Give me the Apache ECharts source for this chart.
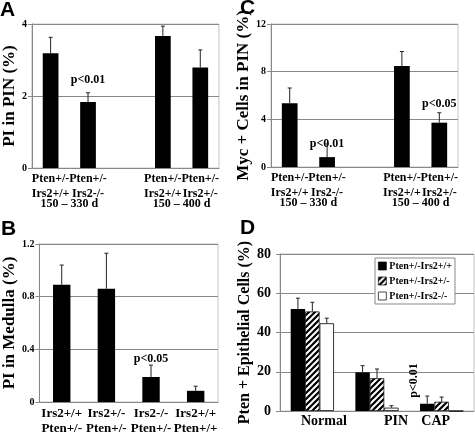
<!DOCTYPE html>
<html><head><meta charset="utf-8">
<script src="https://cdn.jsdelivr.net/npm/echarts@6/dist/echarts.min.js"></script>
<style>html,body{margin:0;padding:0;background:#fff}#c{width:475px;height:436px}</style>
</head><body><div id="c"></div>
<script>
// ---- Panel A ----
const catsA = ['Pten+/-\nIrs2+/+', 'Pten+/-\nIrs2-/-', '', 'Pten+/-\nIrs2+/+', 'Pten+/-\nIrs2+/-'];
const meanA = [3.19, 1.83, null, 3.67, 2.79];
const upperA = [3.63, 2.09, null, 3.94, 3.28];
const groupsA = ['150 \u2013 330 d', '150 \u2013 400 d'];
const pA = ['', 'p<0.01', '', '', ''];
const ticksA = [0, 2, 4];
// ---- Panel C ----
const catsC = ['Pten+/-\nIrs2+/+', 'Pten+/-\nIrs2-/-', '', 'Pten+/-\nIrs2+/+', 'Pten+/-\nIrs2+/-'];
const meanC = [5.36, 0.83, null, 8.47, 3.72];
const upperC = [6.63, 1.94, null, 9.69, 4.55];
const groupsC = ['150 \u2013 330 d', '150 \u2013 400 d'];
const pC = ['', 'p<0.01', '', '', 'p<0.05'];
const ticksC = [0, 4, 8, 12];
// ---- Panel B ----
const catsB = ['Irs2+/+\nPten+/-', 'Irs2+/-\nPten+/-', 'Irs2-/-\nPten+/-', 'Irs2+/+\nPten+/+'];
const meanB = [0.89, 0.86, 0.19, 0.085];
const upperB = [1.04, 1.13, 0.28, 0.12];
const pB = ['', '', 'p<0.05', ''];
const ticksB = [0, 0.4, 0.8, 1.2];
// ---- Panel D ----
const catsD = ['Normal', 'PIN', 'CAP'];
const namesD = ['Pten+/-Irs2+/+', 'Pten+/-Irs2+/-', 'Pten+/-Irs2-/-'];
const meanD1 = [52.0, 19.7, 3.7];
const meanD2 = [50.7, 16.7, 4.7];
const meanD3 = [44.7, 1.7, 0];
const upperD1 = [57.5, 23.1, 7.6];
const upperD2 = [55.4, 21.4, 7.1];
const upperD3 = [47.3, 2.7, null];
const pD3 = ['', 'p<0.01', ''];
const ticksD = [0, 20, 40, 60, 80];

const SERIF = '"Liberation Serif", "Times New Roman", serif';
const SANS = '"Liberation Sans", Arial, sans-serif';

function hatchCanvas() {
  const c = document.createElement('canvas');
  c.width = 6; c.height = 6;
  const g = c.getContext('2d');
  g.fillStyle = '#000'; g.fillRect(0, 0, 6, 6);
  g.strokeStyle = '#fff'; g.lineWidth = 2;
  g.beginPath();
  g.moveTo(0, 6); g.lineTo(6, 0);
  g.moveTo(-3, 3); g.lineTo(3, -3);
  g.moveTo(3, 9); g.lineTo(9, 3);
  g.stroke();
  return c;
}
const hatch = { image: hatchCanvas(), repeat: 'repeat' };

function errRender(offsetFrac) {
  return function (params, api) {
    const x = api.value(0);
    const lo = api.coord([x, api.value(1)]);
    const hi = api.coord([x, api.value(2)]);
    const bw = api.size([1, 0])[0];
    const dx = offsetFrac * bw;
    const st = { stroke: '#222', lineWidth: 1 };
    return { type: 'group', children: [
      { type: 'line', shape: { x1: lo[0] + dx, y1: lo[1], x2: hi[0] + dx, y2: hi[1] }, style: st },
      { type: 'line', shape: { x1: hi[0] + dx - 2, y1: hi[1], x2: hi[0] + dx + 2, y2: hi[1] }, style: st }
    ]};
  };
}
function errData(means, uppers) {
  const out = [];
  means.forEach((m, i) => { if (m != null && uppers[i] != null) out.push([i, m, uppers[i]]); });
  return out;
}
function barData(means, ps, dist) {
  return means.map((m, i) => {
    if (ps[i]) return { value: m, label: { show: true, formatter: ps[i], position: 'top', distance: dist[i] || 10,
      fontFamily: SERIF, fontWeight: 'bold', fontSize: 12, color: '#000' } };
    return m;
  });
}
function yAxis(grid, ticks, opts) {
  return Object.assign({
    type: 'value', gridIndex: grid, min: ticks[0], max: ticks[ticks.length - 1],
    interval: ticks[1] - ticks[0],
    nameLocation: 'middle', nameRotate: 90,
    nameTextStyle: { fontFamily: SERIF, fontWeight: 'bold', fontSize: 17, color: '#000' },
    axisLine: { show: true, lineStyle: { color: '#888' } },
    axisTick: { show: true, length: 4, lineStyle: { color: '#888' } },
    axisLabel: { fontFamily: SERIF, fontWeight: 'bold', fontSize: 10, color: '#000', margin: 5 },
    splitLine: { lineStyle: { color: '#888' } }
  }, opts);
}
function xCat(grid, cats, opts) {
  return Object.assign({
    type: 'category', gridIndex: grid, data: cats,
    axisLine: { lineStyle: { color: '#888' } }, axisTick: { show: false },
    axisLabel: { interval: 0, fontFamily: SERIF, fontWeight: 'bold', fontSize: 12, lineHeight: 15, color: '#000', margin: 3 }
  }, opts);
}
function xGroup(grid, n, groups) {
  return {
    type: 'value', gridIndex: grid, min: 0, max: n, interval: 1, position: 'bottom',
    axisLine: { show: false }, axisTick: { show: false }, splitLine: { show: false },
    axisLabel: { show: true, showMinLabel: true, showMaxLabel: true, margin: 30,
      fontFamily: SERIF, fontWeight: 'bold', fontSize: 12, color: '#000',
      formatter: v => (v === 1 ? groups[0] : (v === 4 ? groups[1] : '')) }
  };
}
const frame = { show: true, borderColor: '#c4c4c4', borderWidth: 1, containLabel: false };

const chart = echarts.init(document.getElementById('c'), null, { renderer: 'canvas' });
const titleStyle = { fontFamily: SANS, fontWeight: 'bold', fontSize: 21, color: '#000' };
chart.setOption({
  animation: false,
  backgroundColor: '#fff',
  title: [
    { text: 'A', left: 0, top: 0, padding: 0, textStyle: titleStyle },
    { text: 'C', left: 240, top: -2, padding: 0, textStyle: titleStyle },
    { text: 'B', left: 1, top: 219, padding: 0, textStyle: titleStyle },
    { text: 'D', left: 240, top: 218, padding: 0, textStyle: titleStyle }
  ],
  grid: [
    Object.assign({ left: 28, top: 24, width: 191, height: 144 }, frame),
    Object.assign({ left: 271, top: 24, width: 187, height: 143 }, frame),
    Object.assign({ left: 29, top: 244, width: 189, height: 165 }, frame),
    Object.assign({ left: 280, top: 254, width: 194, height: 157 }, frame)
  ],
  legend: {
    data: namesD, orient: 'vertical', left: 375, top: 258, icon: 'rect',
    itemWidth: 8, itemHeight: 8, itemGap: 5, padding: [3, 3, 3, 3],
    borderColor: '#888', borderWidth: 1, backgroundColor: '#fff',
    itemStyle: { borderColor: '#000', borderWidth: 0.7 },
    textStyle: { fontFamily: SERIF, fontWeight: 'bold', fontSize: 10, color: '#000', padding: [0, 0, 0, -2] },
    selectedMode: false
  },
  xAxis: [
    xCat(0, catsA), xCat(1, catsC), xCat(2, catsB, { axisLabel: { interval: 0, fontFamily: SERIF, fontWeight: 'bold', fontSize: 13, lineHeight: 15, color: '#000', margin: 4 } }),
    xCat(3, catsD, { axisLabel: { interval: 0, fontFamily: SERIF, fontWeight: 'bold', fontSize: 14, color: '#000', margin: 3,
      formatter: (v, i) => '{r' + i + '|' + v + '}',
      rich: { r0: { padding: [0, 0, 0, 23] }, r1: { padding: [0, 0, 0, 38] }, r2: { padding: [0, 12, 0, 0] } } } }),
    xGroup(0, 5, groupsA), xGroup(1, 5, groupsC)
  ],
  yAxis: [
    yAxis(0, ticksA, { name: 'PI in PIN (%)', nameGap: 8 }),
    yAxis(1, ticksC, { name: 'Myc + Cells in PIN (%)', nameGap: 11 }),
    yAxis(2, ticksB, { name: 'PI in Medulla (%)', nameGap: 9 }),
    yAxis(3, ticksD, { name: 'Pten + Epithelial Cells (%)', nameGap: 24, nameTextStyle: { fontFamily: SERIF, fontWeight: 'bold', fontSize: 16, color: '#000' },
      axisLabel: { fontFamily: SERIF, fontWeight: 'bold', fontSize: 14, color: '#000', margin: 9 } })
  ],
  series: [
    { type: 'bar', xAxisIndex: 0, yAxisIndex: 0, barWidth: '42%', itemStyle: { color: '#000' }, data: barData(meanA, pA, [0, 16]) },
    { type: 'custom', xAxisIndex: 0, yAxisIndex: 0, z: 3, renderItem: errRender(0), data: errData(meanA, upperA) },
    { type: 'bar', xAxisIndex: 1, yAxisIndex: 1, barWidth: '42%', itemStyle: { color: '#000' }, data: barData(meanC, pC, [0, 7, 0, 0, 13]) },
    { type: 'custom', xAxisIndex: 1, yAxisIndex: 1, z: 3, renderItem: errRender(0), data: errData(meanC, upperC) },
    { type: 'bar', xAxisIndex: 2, yAxisIndex: 2, barWidth: '39%', itemStyle: { color: '#000' }, data: barData(meanB, pB, [0, 0, 12]) },
    { type: 'custom', xAxisIndex: 2, yAxisIndex: 2, z: 3, renderItem: errRender(0), data: errData(meanB, upperB) },
    { name: namesD[0], type: 'bar', xAxisIndex: 3, yAxisIndex: 3, barWidth: '22.3%', barGap: '0%', itemStyle: { color: '#000' }, data: meanD1 },
    { name: namesD[1], type: 'bar', xAxisIndex: 3, yAxisIndex: 3, barWidth: '22.3%', barGap: '0%', itemStyle: { color: hatch, borderColor: '#000', borderWidth: 0.7 }, data: meanD2 },
    { name: namesD[2], type: 'bar', xAxisIndex: 3, yAxisIndex: 3, barWidth: '22.3%', barGap: '0%', itemStyle: { color: '#fff', borderColor: '#000', borderWidth: 0.8 },
      data: meanD3.map((m, i) => pD3[i] ? { value: m, label: { show: true, formatter: pD3[i], position: [30, -10], rotate: 90,
        align: 'left', verticalAlign: 'middle', fontFamily: SERIF, fontWeight: 'bold', fontSize: 12, color: '#000' } } : m) },
    { type: 'custom', xAxisIndex: 3, yAxisIndex: 3, z: 3, renderItem: errRender(-0.223), data: errData(meanD1, upperD1) },
    { type: 'custom', xAxisIndex: 3, yAxisIndex: 3, z: 3, renderItem: errRender(0), data: errData(meanD2, upperD2) },
    { type: 'custom', xAxisIndex: 3, yAxisIndex: 3, z: 3, renderItem: errRender(0.223), data: errData(meanD3, upperD3) }
  ]
});
</script></body></html>
